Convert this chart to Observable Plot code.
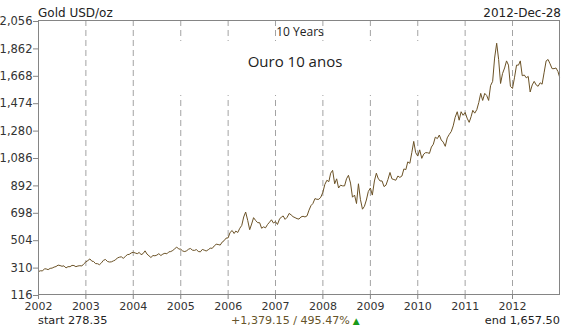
<!DOCTYPE html>
<html><head><meta charset="utf-8">
<script src="https://cdn.jsdelivr.net/npm/d3@7"></script>
<script src="https://cdn.jsdelivr.net/npm/@observablehq/plot@0.6"></script>
<style>
body{margin:0;background:#fff;}
#wrap{position:relative;width:571px;height:327px;font-family:"DejaVu Sans",sans-serif;color:#222;overflow:hidden;}
.t{position:absolute;white-space:nowrap;line-height:1;}
</style></head><body><div id="wrap"></div>
<script>
// semi-monthly closes (1st and 16th of each month), USD/oz
const p2002 = [278.35, 284, 283, 298, 297, 292, 301, 303, 310, 314, 324, 321, 316, 319, 304, 313, 313, 322, 321, 313, 318, 320, 318, 333];
const p2003 = [347, 356, 368, 352, 350, 335, 334, 327, 340, 358, 364, 350, 346, 347, 354, 360, 375, 380, 383, 372, 385, 398, 400, 410];
const p2004 = [415, 410, 405, 414, 398, 405, 425, 402, 390, 378, 392, 390, 395, 405, 392, 402, 408, 404, 418, 420, 428, 440, 452, 438];
const p2005 = [437, 424, 420, 426, 436, 442, 430, 428, 434, 421, 418, 435, 430, 424, 433, 444, 443, 460, 472, 470, 466, 487, 497, 515];
const p2006 = [517, 555, 569, 548, 565, 555, 585, 605, 665, 700, 640, 575, 615, 660, 640, 625, 624, 585, 595, 588, 612, 628, 645, 622];
const p2007 = [632, 612, 650, 665, 672, 648, 663, 690, 680, 667, 660, 653, 650, 665, 670, 665, 673, 713, 745, 760, 795, 790, 790, 805];
const p2008 = [840, 895, 925, 915, 975, 995, 900, 935, 870, 890, 885, 885, 935, 960, 905, 805, 820, 760, 900, 790, 720, 740, 785, 845];
const p2009 = [870, 820, 920, 975, 940, 920, 920, 880, 890, 930, 980, 935, 930, 925, 955, 945, 955, 1005, 1000, 1055, 1045, 1120, 1200, 1120];
const p2010 = [1096, 1140, 1080, 1110, 1120, 1120, 1115, 1160, 1180, 1230, 1220, 1245, 1210, 1195, 1165, 1225, 1250, 1270, 1310, 1370, 1410, 1350, 1410, 1385];
const p2011 = [1405, 1365, 1335, 1375, 1420, 1400, 1425, 1475, 1540, 1490, 1540, 1525, 1490, 1595, 1625, 1790, 1895, 1780, 1610, 1680, 1720, 1770, 1740, 1590];
const p2012 = [1575, 1650, 1740, 1740, 1770, 1665, 1670, 1650, 1660, 1550, 1600, 1625, 1600, 1590, 1615, 1605, 1690, 1770, 1780, 1750, 1715, 1715, 1720, 1695];
const endDate = "2012-12-28";
const endValue = 1657.50;

const yTicks = [116, 310, 504, 698, 892, 1086, 1280, 1474, 1668, 1862, 2056];
const yearTicks = [2002, 2003, 2004, 2005, 2006, 2007, 2008, 2009, 2010, 2011, 2012];
const gridYears = [2003, 2004, 2005, 2006, 2007, 2008, 2009, 2010, 2011, 2012];

const titleText = "Gold USD/oz";
const dateText = "2012-Dec-28";
const periodText = "10 Years";
const chartTitle = "Ouro 10 anos";
const startText = "start 278.35";
const changeText = "+1,379.15 / 495.47%";
const endText = "end 1,657.50";

const years = [[2002,p2002],[2003,p2003],[2004,p2004],[2005,p2005],[2006,p2006],[2007,p2007],[2008,p2008],[2009,p2009],[2010,p2010],[2011,p2011],[2012,p2012]];
const data = [];
for (const [yr, arr] of years) {
  arr.forEach((v, i) => data.push({date: new Date(Date.UTC(yr, Math.floor(i/2), i % 2 ? 16 : 1)), value: v}));
}
data.push({date: new Date(endDate + "T00:00:00Z"), value: endValue});

const yd = y => new Date(Date.UTC(y, 0, 1));

const chart = Plot.plot({
  width: 571, height: 327,
  marginTop: 20, marginBottom: 33, marginLeft: 38, marginRight: 12,
  style: {fontFamily: "DejaVu Sans, sans-serif", fontSize: "11px", background: "transparent", overflow: "visible"},
  x: {type: "utc", domain: [yd(2002), new Date(endDate + "T00:00:00Z")], label: null},
  y: {domain: [116, 2056], label: null},
  marks: [
    Plot.ruleX(gridYears.map(yd), {stroke: "#a3a3a3", strokeDasharray: "6,4", strokeWidth: 1}),
    Plot.line(data, {x: "date", y: "value", stroke: "#6b5226", strokeWidth: 1}),
    Plot.frame({stroke: "#858585"}),
    Plot.axisY(yTicks, {label: null, tickSize: 5, tickPadding: 1, tickFormat: d3.format(","), stroke: "#858585", fill: "#333", fontSize: 11.5, dy: 1}),
    Plot.axisX(yearTicks.map(yd), {label: null, tickSize: 5, tickPadding: 3, tickFormat: d3.utcFormat("%Y"), stroke: "#858585", fill: "#333", fontSize: 11})
  ]
});

const wrap = document.getElementById("wrap");
wrap.appendChild(chart);
chart.style.position = "absolute";
chart.style.left = "0px";
chart.style.top = "0px";

function addText(txt, css) {
  const d = document.createElement("div");
  d.className = "t";
  d.textContent = txt;
  Object.assign(d.style, css);
  wrap.appendChild(d);
  return d;
}
// white label box masking the grid
const box = document.createElement("div");
Object.assign(box.style, {position: "absolute", left: "150px", top: "41px", width: "292px", height: "54px", background: "#fff"});
wrap.appendChild(box);

addText(titleText, {left: "38px", top: "6.5px", fontSize: "12px", color: "#222"});
addText(dateText, {right: "10px", top: "6.5px", fontSize: "12px", color: "#222"});
addText(periodText, {left: "300px", top: "25.5px", transform: "translateX(-50%)", fontFamily: "'Open Sans', sans-serif", fontSize: "12px", color: "#222"});
addText(chartTitle, {left: "295px", top: "53.5px", transform: "translateX(-50%)", fontFamily: "'Open Sans', sans-serif", fontSize: "15px", color: "#222"});
addText(startText, {left: "38px", top: "314.5px", fontSize: "11.3px", color: "#222"});
addText(endText, {right: "11px", top: "314.5px", fontSize: "11.3px", color: "#222"});
const ch = addText(changeText, {left: "231px", top: "314.5px", fontSize: "11.1px", color: "#66542a"});
const tri = document.createElement("span");
tri.textContent = " \u25B2";
Object.assign(tri.style, {color: "#1a9a1a", fontSize: "9px"});
ch.appendChild(tri);
</script></body></html>
